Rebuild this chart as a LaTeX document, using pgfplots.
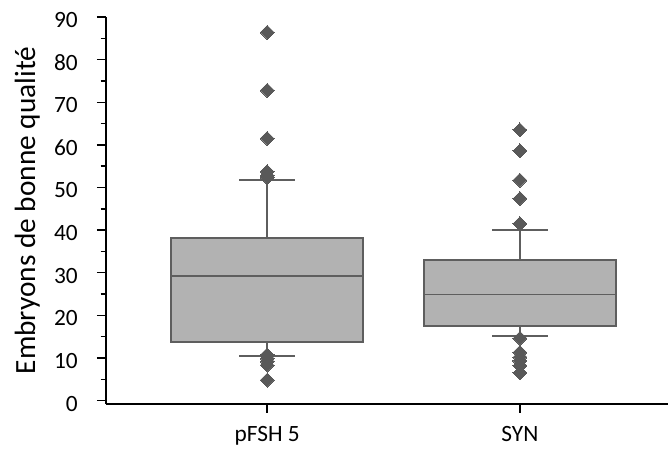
\documentclass[border=0pt]{standalone}
\usepackage{fontspec}
\setmainfont{Carlito}
\usepackage{pgfplots}
\pgfplotsset{compat=1.18}
\definecolor{boxfill}{HTML}{B2B2B2}
\definecolor{boxline}{HTML}{5E5E5E}
\definecolor{mk}{HTML}{595959}
\begin{document}
\begin{tikzpicture}
\begin{axis}[name=ax, scale only axis, width=421.5pt, height=290.25pt,
  xmin=-0.638, xmax=1.586, ymin=-0.8, ymax=90,
  axis lines=left, axis line style={line width=1.5pt, -, black},
  ytick={0,10,...,90}, minor ytick={5,15,...,85},
  xtick={0,1}, xticklabels={pFSH 5, SYN},
  tick align=outside, major tick length=6.75pt, minor tick length=4pt,
  every tick/.style={black, line width=1.1pt},
  /pgf/number format/assume math mode=true,
  tick label style={font=\fontsize{17.5}{20}\selectfont},
  yticklabel style={anchor=east, inner sep=0pt, xshift=-14.25pt, yshift=-2.25pt},
  xticklabel style={anchor=base, inner sep=0pt, yshift=-21pt},
  ylabel={Embryons de bonne qualité},
  every axis y label/.style={at={(axis description cs:-0.1263,0.5)}, rotate=90, anchor=base, inner sep=0pt, font=\fontsize{22}{26}\selectfont},
  clip=false, unbounded coords=jump,
]
% pFSH 5 : whiskers, box, median
\addplot[draw=boxline, line width=1.4pt] coordinates {(0,38.07) (0,51.7) (0,nan) (-0.11,51.7) (0.11,51.7) (0,nan) (0,13.66) (0,10.4) (0,nan) (-0.11,10.4) (0.11,10.4)};
\addplot[draw=boxline, fill=boxfill, line width=1.4pt] coordinates {(-0.38,13.66) (0.38,13.66) (0.38,38.07) (-0.38,38.07)} -- cycle;
\addplot[draw=boxline, line width=1.4pt] coordinates {(-0.38,29.15) (0.38,29.15)};
% SYN : whiskers, box, median
\addplot[draw=boxline, line width=1.4pt] coordinates {(1,32.9) (1,40.0) (1,nan) (0.89,40.0) (1.11,40.0) (1,nan) (1,17.4) (1,15.1) (1,nan) (0.89,15.1) (1.11,15.1)};
\addplot[draw=boxline, fill=boxfill, line width=1.4pt] coordinates {(0.62,17.4) (1.38,17.4) (1.38,32.9) (0.62,32.9)} -- cycle;
\addplot[draw=boxline, line width=1.4pt] coordinates {(0.62,24.9) (1.38,24.9)};
% outliers
\addplot[only marks, mark=square*, mark size=3.7pt, mark options={rotate=45, draw=mk, fill=mk, line width=0pt}]
  coordinates {(0,86.4) (0,72.8) (0,61.5) (0,53.7) (0,52.8) (0,52.3) (0,10.7) (0,9.9) (0,9.2) (0,8.3) (0,4.8)
               (1,63.5) (1,58.6) (1,51.7) (1,47.4) (1,41.5) (1,14.6) (1,11.3) (1,10.2) (1,9.3) (1,8.2) (1,6.5)};
\end{axis}
\pgfresetboundingbox
\path ([shift={(-79.5pt,-33.75pt)}]ax.south west) rectangle ([shift={(423pt,303pt)}]ax.south west);
\end{tikzpicture}
\end{document}
